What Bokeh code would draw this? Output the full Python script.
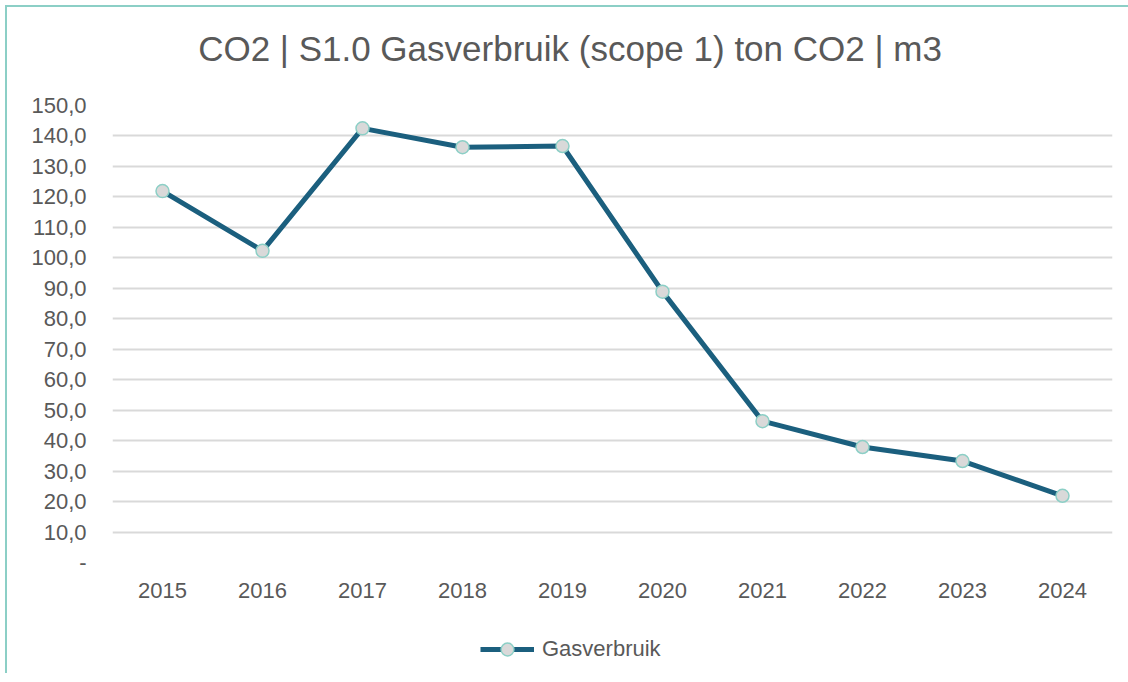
from bokeh.plotting import figure
from bokeh.layouts import column
from bokeh.models import FixedTicker, Legend, LegendItem, ColumnDataSource, Label
from bokeh.embed import file_html
from bokeh.resources import INLINE

years = ["2015", "2016", "2017", "2018", "2019", "2020", "2021", "2022", "2023", "2024"]
gasverbruik = [121.9, 102.3, 142.5, 136.3, 136.7, 88.9, 46.4, 37.9, 33.3, 21.9]
y_ticks = [0, 10, 20, 30, 40, 50, 60, 70, 80, 90, 100, 110, 120, 130, 140, 150]
y_tick_labels = ["-", "10,0", "20,0", "30,0", "40,0", "50,0", "60,0", "70,0", "80,0",
                 "90,0", "100,0", "110,0", "120,0", "130,0", "140,0", "150,0"]
title_text = "CO2 | S1.0 Gasverbruik (scope 1) ton CO2 | m3"
series_name = "Gasverbruik"

FONT = "Liberation Sans"
TXT = "#595959"
BORDER = "#8ccfc6"
LINE = "#1b5f7e"
MFILL = "#d9d9d9"
W = 1121
TITLE_H = 84


def strip(height, **kw):
    f = figure(width=W, height=height, x_range=(0, W), y_range=(0, height),
               output_backend="svg", toolbar_location=None,
               x_axis_type=None, y_axis_type=None,
               min_border_left=0, min_border_right=0, min_border_top=0, min_border_bottom=0, **kw)
    f.outline_line_color = None
    f.grid.visible = False
    return f


# title strip
tf = strip(TITLE_H)
tf.add_layout(Label(x=96, y=43, text=title_text, text_font=FONT, text_font_size="35px",
                    text_color=TXT, text_align="left", text_baseline="alphabetic"))

# main chart
src = ColumnDataSource(dict(x=years, y=gasverbruik))
p = figure(width=W, height=526, x_range=years, y_range=(0, 150),
           output_backend="svg", toolbar_location=None,
           min_border_left=105, min_border_right=W - 1105, min_border_top=14, min_border_bottom=55)
p.outline_line_color = None
p.background_fill_color = "white"
p.border_fill_color = "white"
p.x_range.range_padding = 0

p.yaxis.ticker = FixedTicker(ticks=y_ticks)
p.yaxis.major_label_overrides = {t: l for t, l in zip(y_ticks, y_tick_labels)}
for ax in (p.xaxis[0], p.yaxis[0]):
    ax.axis_line_color = None
    ax.major_tick_line_color = None
    ax.minor_tick_line_color = None
    ax.major_tick_in = 0
    ax.major_tick_out = 0
    ax.major_label_text_font = FONT
    ax.major_label_text_font_size = "22px"
    ax.major_label_text_color = TXT
p.yaxis.major_label_standoff = 26
p.xaxis.major_label_standoff = 20

p.xgrid.grid_line_color = None
p.ygrid.grid_line_color = "#d9d9d9"
p.ygrid.grid_line_width = 2
p.ygrid.ticker = FixedTicker(ticks=y_ticks)

p.line("x", "y", source=src, line_color=LINE, line_width=5)
p.scatter("x", "y", source=src, size=13, fill_color=MFILL, line_color=BORDER, line_width=1.5)

# legend strip (legend glyphs only; the dummy source holds a single NaN so nothing is drawn)
lg = figure(width=W, height=56, x_range=(0, 1), y_range=(0, 1),
            output_backend="svg", toolbar_location=None,
            x_axis_type=None, y_axis_type=None,
            min_border_left=0, min_border_right=0, min_border_top=0, min_border_bottom=0)
lg.outline_line_color = None
lg.grid.visible = False
dummy = ColumnDataSource(dict(x=[float("nan")], y=[float("nan")]))
l_ln = lg.line("x", "y", source=dummy, line_color=LINE, line_width=5)
l_sc = lg.scatter("x", "y", source=dummy, size=13, fill_color=MFILL, line_color=BORDER, line_width=1.5)
legend = Legend(items=[LegendItem(label=series_name, renderers=[l_ln, l_sc])],
                orientation="horizontal", location=(368, 8),
                border_line_color=None, background_fill_alpha=0,
                label_text_font=FONT, label_text_font_size="22px",
                label_text_color=TXT, glyph_width=54, glyph_height=32,
                margin=0, padding=4, label_standoff=8)
lg.add_layout(legend, "center")

layout = column(tf, p, lg, spacing=0,
                styles={"border-left": "2px solid " + BORDER, "border-top": "2px solid " + BORDER,
                        "margin-left": "5px", "margin-top": "5px"})

open("out.html", "w").write(file_html(layout, INLINE))
